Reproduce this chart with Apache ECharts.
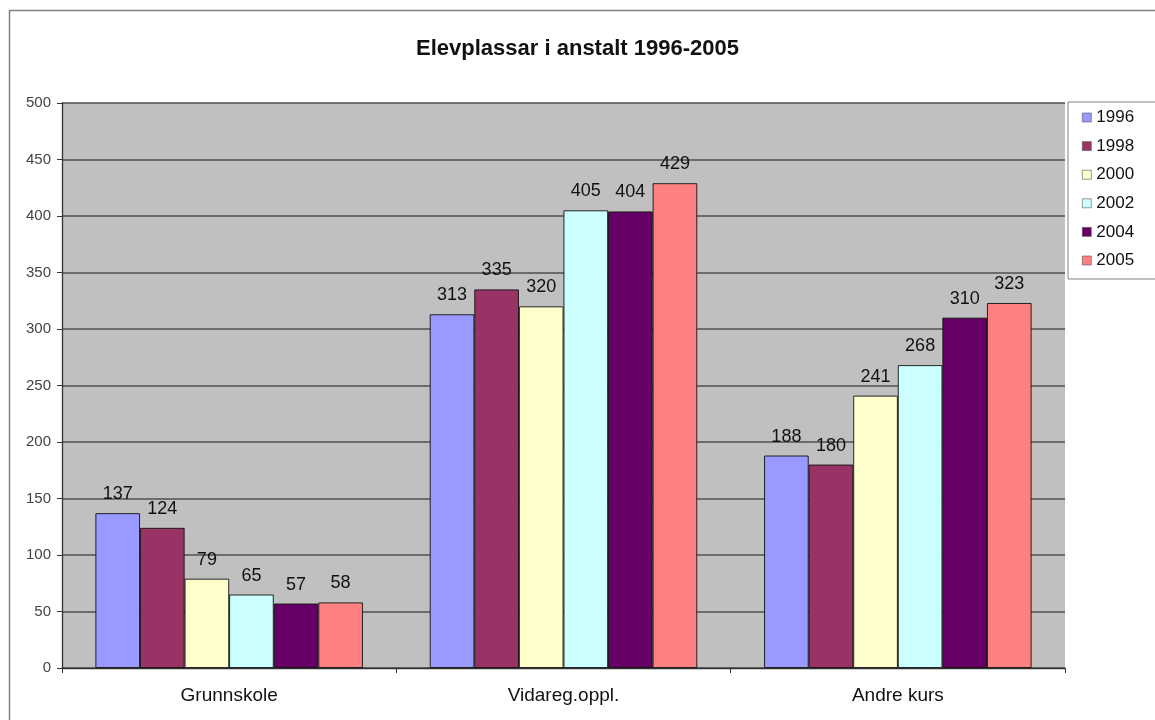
<!DOCTYPE html>
<html><head><meta charset="utf-8">
<script src="https://cdn.jsdelivr.net/npm/echarts@6/dist/echarts.min.js"></script>
<style>html,body{margin:0;padding:0;background:#fff}#c{width:1155px;height:720px}</style>
</head><body><div id="c"></div>
<script>
var categories = ["Grunnskole", "Vidareg.oppl.", "Andre kurs"];
var seriesNames = ["1996", "1998", "2000", "2002", "2004", "2005"];
var v1996 = [137, 313, 188];
var v1998 = [124, 335, 180];
var v2000 = [79, 320, 241];
var v2002 = [65, 405, 268];
var v2004 = [57, 404, 310];
var v2005 = [58, 429, 323];
var colors = ["#9999FF", "#993366", "#FFFFCC", "#CCFFFF", "#660066", "#FF8080"];
var values = [v1996, v1998, v2000, v2002, v2004, v2005];
var font = "'Liberation Sans', Arial, sans-serif";

var chart = echarts.init(document.getElementById('c'));
chart.setOption({
  animation: false,
  title: {
    text: "Elevplassar i anstalt 1996-2005",
    left: 'center', top: 33,
    textStyle: {fontFamily: font, fontSize: 22, fontWeight: 'bold', color: '#111'}
  },
  graphic: [{
    type: 'rect', shape: {x: 9.5, y: 10.5, width: 1160, height: 720},
    style: {fill: 'none', stroke: '#808080', lineWidth: 1.5}, silent: true
  }],
  legend: {
    orient: 'vertical', left: 1068, top: 102,
    data: seriesNames,
    icon: 'rect', itemWidth: 9, itemHeight: 9, itemGap: 11.6,
    padding: [7, 30, 10, 14],
    borderColor: '#808080', borderWidth: 1, backgroundColor: '#fff',
    textStyle: {fontFamily: font, fontSize: 17, color: '#111', lineHeight: 17, padding: [0,0,0,0]},
    itemStyle: {borderColor: '#555', borderWidth: 0.6}
  },
  grid: {left: 62, right: 90, top: 103, bottom: 52, show: true, backgroundColor: '#C0C0C0', borderColor: '#666', borderWidth: 0},
  xAxis: {
    type: 'category', data: categories,
    axisLine: {lineStyle: {color: '#333', width: 1.3}},
    axisTick: {show: true, length: 5, lineStyle: {color: '#333'}},
    axisLabel: {fontFamily: font, fontSize: 19, color: '#111', margin: 18}
  },
  yAxis: {
    type: 'value', min: 0, max: 500, interval: 50,
    axisLine: {show: true, lineStyle: {color: '#333', width: 1.3}},
    axisTick: {show: true, length: 5, lineStyle: {color: '#333'}},
    axisLabel: {fontFamily: font, fontSize: 15, color: '#444', margin: 11},
    splitLine: {lineStyle: {color: '#505050', width: 1.5}}
  },
  series: seriesNames.map(function (n, i) {
    return {
      name: n, type: 'bar', data: values[i],
      barGap: '0%', barCategoryGap: '20%',
      itemStyle: {color: colors[i], borderColor: '#111', borderWidth: 0.9},
      label: {show: true, position: 'top', distance: 10, fontFamily: font, fontSize: 18, color: '#111'}
    };
  })
});
</script></body></html>
